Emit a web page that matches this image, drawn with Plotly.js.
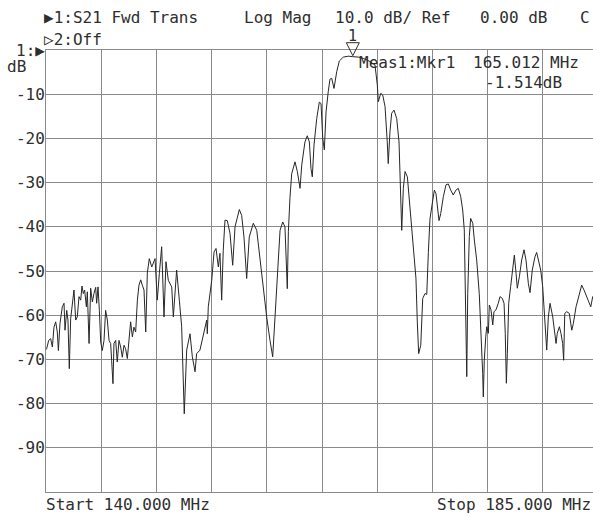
<!DOCTYPE html>
<html><head><meta charset="utf-8">
<script src="https://cdn.plot.ly/plotly-3.0.1.min.js"></script>
<style>html,body{margin:0;padding:0;background:#fff;}#chart{width:593px;height:517px;}</style>
</head><body><div id="chart"></div>
<script>
// Trace: S21 forward transmission, frequency (MHz) vs magnitude (dB)
const freqMHz = [140.00,140.05,140.22,140.38,140.52,140.65,140.79,140.92,141.01,141.14,141.33,141.47,141.55,141.69,141.79,141.90,142.01,142.15,142.28,142.42,142.55,142.69,142.83,142.93,143.04,143.15,143.29,143.37,143.51,143.64,143.78,143.91,144.05,144.13,144.24,144.35,144.46,144.59,144.73,144.86,145.00,145.14,145.27,145.35,145.46,145.54,145.68,145.81,145.95,146.09,146.22,146.36,146.49,146.63,146.77,146.90,147.04,147.17,147.31,147.45,147.58,147.72,147.85,147.99,148.13,148.26,148.42,148.62,148.89,149.07,149.24,149.43,149.62,149.78,149.97,150.25,150.38,150.65,150.87,151.06,151.27,151.47,151.74,151.93,152.15,152.28,152.55,152.82,153.10,153.15,153.23,153.51,153.70,153.86,154.05,154.18,154.32,154.45,154.59,154.78,155.00,155.22,155.41,155.76,155.95,156.14,156.36,156.57,156.90,157.18,157.45,157.72,157.99,158.26,158.48,158.67,158.86,159.08,159.30,159.48,159.67,159.76,159.89,160.03,160.30,160.49,160.71,160.85,161.11,161.30,161.47,161.60,161.71,161.85,162.07,162.28,162.42,162.56,162.69,162.83,163.01,163.15,163.29,163.48,163.70,163.91,164.24,164.65,165.01,165.46,165.87,166.41,166.82,167.01,167.09,167.29,167.45,167.64,167.82,167.90,168.04,168.18,168.37,168.59,168.78,168.92,169.00,169.13,169.27,169.46,169.62,169.90,170.16,170.27,170.38,170.55,170.71,170.90,171.04,171.17,171.30,171.49,171.66,171.79,171.93,172.04,172.18,172.39,172.61,172.80,172.99,173.20,173.42,173.61,173.81,173.97,174.10,174.21,174.30,174.38,174.51,174.62,174.79,174.92,175.11,175.32,175.46,175.54,175.60,175.65,175.73,175.85,175.93,176.06,176.14,176.28,176.42,176.52,176.68,176.87,177.01,177.20,177.34,177.44,177.53,177.61,177.72,177.88,178.05,178.18,178.32,178.42,178.59,178.78,178.97,179.13,179.32,179.46,179.64,179.86,180.00,180.13,180.33,180.49,180.60,180.74,180.82,180.95,181.09,181.31,181.44,181.58,181.68,181.85,181.98,182.12,182.20,182.29,182.45,182.66,182.86,182.99,183.21,183.40,183.67,183.86,184.08,184.27,184.41,184.57,184.80,185.00];
const s21dB = [-67.8,-67.6,-65.7,-65.3,-67.2,-62.7,-61.5,-63.8,-68.0,-61.9,-58.1,-57.3,-63.4,-58.9,-61.1,-72.1,-60.8,-56.6,-54.3,-61.1,-60.4,-55.8,-56.6,-53.4,-55.1,-54.3,-58.1,-54.7,-66.4,-53.9,-57.0,-55.1,-53.7,-57.3,-53.6,-58.9,-66.1,-68.0,-65.7,-58.9,-61.1,-65.7,-66.4,-70.2,-75.5,-66.4,-65.7,-70.6,-65.7,-67.2,-69.5,-66.8,-67.6,-69.8,-65.7,-61.5,-64.9,-62.7,-63.8,-56.6,-53.2,-52.0,-53.2,-54.3,-63.8,-50.5,-47.2,-49.1,-47.2,-56.6,-50.6,-44.5,-60.4,-47.9,-52.1,-53.6,-60.4,-49.8,-56.6,-62.6,-82.3,-67.9,-64.2,-69.4,-72.8,-68.7,-67.9,-64.2,-61.1,-64.2,-58.1,-52.1,-45.7,-44.9,-49.1,-46.0,-56.6,-45.3,-38.5,-38.6,-41.5,-48.7,-40.0,-36.1,-37.4,-42.3,-51.7,-42.3,-39.2,-40.8,-47.5,-54.3,-60.4,-65.7,-69.4,-60.4,-50.6,-40.8,-38.9,-40.0,-54.0,-41.0,-33.4,-28.0,-25.3,-27.5,-31.3,-26.0,-20.8,-19.4,-20.8,-26.8,-28.7,-21.5,-15.5,-11.8,-12.1,-20.0,-22.6,-14.0,-9.4,-6.6,-6.4,-8.7,-4.9,-2.5,-1.6,-1.4,-1.51,-1.6,-1.9,-2.6,-3.4,-7.9,-11.7,-9.8,-10.2,-12.8,-20.8,-25.7,-18.5,-14.3,-13.6,-15.5,-20.8,-32.8,-40.8,-31.3,-27.5,-28.7,-34.3,-44.2,-51.7,-61.5,-68.7,-66.8,-56.2,-55.1,-55.3,-45.8,-38.3,-34.7,-31.7,-32.5,-36.2,-38.6,-37.0,-33.2,-30.5,-30.3,-31.7,-32.8,-31.7,-31.3,-33.2,-36.2,-40.7,-59.6,-73.9,-55.1,-42.2,-38.1,-39.2,-43.0,-47.5,-55.1,-62.6,-67.9,-73.2,-78.5,-70.2,-64.9,-62.6,-64.1,-57.7,-58.8,-62.2,-59.2,-58.8,-57.3,-55.8,-56.2,-57.3,-64.1,-75.4,-68.6,-57.3,-53.5,-49.0,-46.4,-50.5,-53.9,-51.3,-47.5,-45.2,-47.5,-52.8,-54.9,-49.8,-46.8,-45.8,-47.5,-49.8,-53.5,-58.8,-65.6,-67.9,-60.4,-57.3,-60.4,-63.4,-66.4,-64.1,-62.6,-64.1,-66.4,-70.2,-59.6,-59.2,-59.6,-63.4,-61.9,-58.1,-55.8,-53.2,-54.3,-55.8,-57.3,-58.1,-55.8,-57.0,-58.0];

const yTickVals = [-10,-20,-30,-40,-50,-60,-70,-80,-90];
const yTickText = ['-10','-20','-30','-40','-50','-60','-70','-80','-90'];
const startFreq = 140, stopFreq = 185;
const yMin = -100, yMax = 0;
const markerFreq = 165.012, markerDb = -1.514;

const W = 593, H = 517;
const M = {l:46, r:0, t:50, b:25};
const PW = W - M.l - M.r, PH = H - M.t - M.b;
const divPx = 55.2; // screen shows 10 divisions, last one partly cut off
const xMax = startFreq + (stopFreq - startFreq) / 10 * (PW / divPx);

const FONT = 'DejaVu Sans Mono, Liberation Mono, monospace';
const TXT = '#2e2e2e';
const GRID = '#8a8a8a';
function px(x){return (x - M.l) / PW;}
function py(y){return (H - M.b - y) / PH;}
function label(text, x, y, anchor, size){
  return {xref:'paper', yref:'paper', x:px(x), y:py(y), xanchor:anchor||'left', yanchor:'middle',
    text:text, showarrow:false, borderpad:0, font:{family:FONT, size:size||16, color:TXT}};
}

const annotations = [
  label('\u25B61:S21 Fwd Trans', 43, 17),
  label('Log Mag', 243, 17),
  label('10.0 dB/ Ref', 334, 17),
  label('0.00 dB', 479, 17),
  label('C', 579, 17),
  label('\u25B72:Off', 43, 39),
  label('1:\u25B6', 15, 50),
  label('dB', 6, 67),
  label('Meas1:Mkr1', 358, 62),
  label(markerFreq.toFixed(3) + ' MHz', 472, 62),
  label(markerDb.toFixed(3) + 'dB', 484, 83),
  label('Start ' + startFreq.toFixed(3) + ' MHz', 45, 505),
  label('Stop ' + stopFreq.toFixed(3) + ' MHz', 436, 505),
  {xref:'x', yref:'y', x:markerFreq, y:markerDb, xanchor:'center', yanchor:'middle', yshift:21,
   text:'1', showarrow:false, borderpad:0, font:{family:FONT, size:15, color:TXT}}
];

// marker triangle: pixel-sized shape anchored on the marker point (paper y so it is not clipped)
const shapes = [{type:'path', xref:'x', yref:'paper', xsizemode:'pixel', ysizemode:'pixel',
  xanchor:markerFreq, yanchor:(markerDb - yMin) / (yMax - yMin), path:'M-6.5,14 L6.5,14 L0,1 Z',
  line:{color:TXT, width:1}, fillcolor:'rgba(0,0,0,0)', layer:'above'}];

const trace = {x:freqMHz, y:s21dB, type:'scatter', mode:'lines',
  line:{color:'#262626', width:1}, hoverinfo:'skip', showlegend:false};

const layout = {
  width:W, height:H, margin:{l:M.l, r:M.r, t:M.t, b:M.b, pad:0},
  paper_bgcolor:'#fff', plot_bgcolor:'#fff', showlegend:false,
  xaxis:{range:[startFreq, xMax], tick0:startFreq, dtick:(stopFreq-startFreq)/10, showticklabels:false,
    showgrid:true, gridcolor:GRID, gridwidth:1, zeroline:false, showline:true, linecolor:GRID, linewidth:1,
    mirror:true, ticks:'', fixedrange:true},
  yaxis:{range:[yMin, yMax], tickmode:'array', tickvals:yTickVals, ticktext:yTickText,
    showgrid:true, gridcolor:GRID, gridwidth:1, zeroline:false, showline:true, linecolor:GRID, linewidth:1,
    ticks:'', ticklabelstandoff:-3, tickfont:{family:FONT, size:16, color:TXT}, fixedrange:true},
  annotations:annotations, shapes:shapes
};
Plotly.newPlot('chart', [trace], layout, {displayModeBar:false, staticPlot:true});
</script></body></html>
